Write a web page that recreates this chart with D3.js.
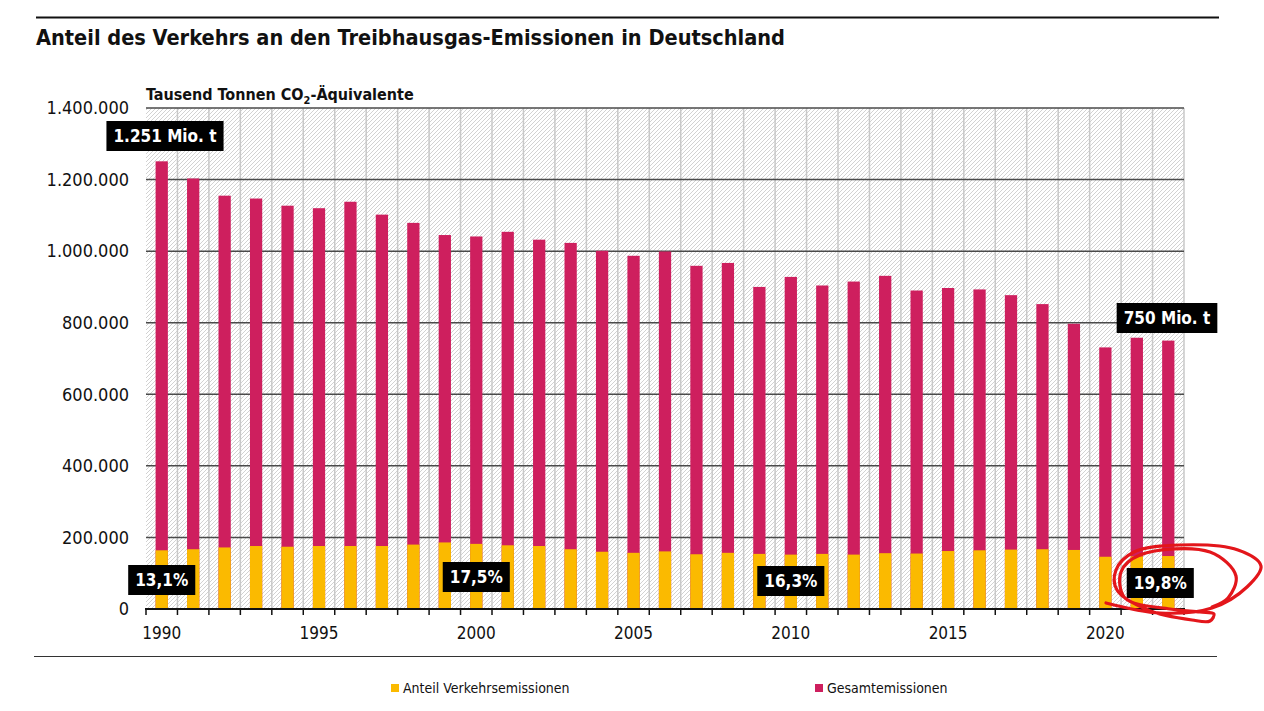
<!DOCTYPE html>
<html>
<head>
    <title>Anteil des Verkehrs</title>
    <script src="https://d3js.org/d3.v7.min.js"></script>
    <style>
        body { margin: 0; background: #fff; }
        text { font-family: "Liberation Sans Narrow", "DejaVu Sans Condensed", "Roboto Condensed", sans-serif; }
    </style>
</head>
<body>
    <div id="chart"></div>
    <script>
        // Tausend Tonnen CO2-Aequivalente
        const years = d3.range(1990, 2023);
        const gesamt = [1251000, 1203000, 1155000, 1147000, 1127000, 1120000, 1138000, 1102000, 1079000, 1045000,
                        1041000, 1054000, 1032000, 1023000, 1001000, 987000, 999000, 959000, 967000, 900000,
                        928000, 904000, 915000, 931000, 890000, 897000, 893000, 877000, 852000, 797000,
                        731000, 758000, 750000];
        const verkehr = [164000, 167000, 172000, 176000, 174000, 176000, 176000, 176000, 180000, 186000,
                         182000, 178000, 176000, 167000, 160000, 157000, 161000, 153000, 157000, 154000,
                         152000, 154000, 152000, 156000, 155000, 162000, 164000, 166000, 167000, 165000,
                         146000, 147000, 148000];
        const yTicks = [0, 200000, 400000, 600000, 800000, 1000000, 1200000, 1400000];
        const xLabelYears = [1990, 1995, 2000, 2005, 2010, 2015, 2020];
        const callouts = [
            {year: 1990, text: "13,1%", dx: 0, cy: 580},
            {year: 2000, text: "17,5%", dx: 0, cy: 577},
            {year: 2010, text: "16,3%", dx: 0, cy: 581},
            {year: 2022, text: "19,8%", dx: -8, cy: 583}
        ];
        const totalLabels = [
            {year: 1990, text: "1.251 Mio. t", cx: 165, cy: 136},
            {year: 2022, text: "750 Mio. t", cx: 1167, cy: 318}
        ];

        const W = 1264, H = 711;
        const pLeft = 146, pRight = 1184, pTop = 108, pBottom = 609;
        const fmt = d3.formatLocale({decimal: ",", thousands: ".", grouping: [3], currency: ["", "€"]}).format(",.0f");

        const svg = d3.select("#chart").append("svg")
            .attr("width", W).attr("height", H);

        const defs = svg.append("defs");
        defs.append("pattern")
            .attr("id", "hatch")
            .attr("patternUnits", "userSpaceOnUse")
            .attr("width", 4).attr("height", 4)
            .append("path")
            .attr("d", "M-1,1 l2,-2 M0,4 l4,-4 M3,5 l2,-2")
            .attr("stroke", "#d2d2d2")
            .attr("stroke-width", 1);

        const x = d3.scaleBand().domain(years).range([pLeft, pRight]).paddingInner(0.61).paddingOuter(0.305);
        const y = d3.scaleLinear().domain([0, 1400000]).range([pBottom, pTop]);

        // top rule + title
        svg.append("line").attr("x1", 36).attr("x2", 1219).attr("y1", 17.5).attr("y2", 17.5)
            .attr("stroke", "#111").attr("stroke-width", 2);
        svg.append("text").attr("x", 36).attr("y", 45)
            .style("font-size", "22px").style("font-weight", "bold").attr("fill", "#111")
            .attr("textLength", 749).attr("lengthAdjust", "spacingAndGlyphs")
            .text("Anteil des Verkehrs an den Treibhausgas-Emissionen in Deutschland");

        // unit label
        const unit = svg.append("text").attr("x", 146).attr("y", 100)
            .style("font-size", "16px").style("font-weight", "bold").attr("fill", "#111");
        unit.append("tspan").text("Tausend Tonnen CO");
        unit.append("tspan").attr("dy", 4).style("font-size", "11px").text("2");
        unit.append("tspan").attr("dy", -4).text("-Äquivalente");

        // hatched plot background
        svg.append("rect").attr("x", pLeft).attr("y", pTop)
            .attr("width", pRight - pLeft).attr("height", pBottom - pTop)
            .attr("fill", "url(#hatch)");

        // vertical grid at band boundaries
        const step = x.step();
        const bounds = years.map(d => x(d) + x.bandwidth() / 2 - step / 2).concat([pRight]);
        svg.append("g").selectAll("line").data(bounds.slice(1)).join("line")
            .attr("x1", d => d).attr("x2", d => d)
            .attr("y1", pTop).attr("y2", pBottom)
            .attr("stroke", "#c8c8c8").attr("stroke-width", 1.5);

        // horizontal grid
        svg.append("g").selectAll("line").data(yTicks.slice(1)).join("line")
            .attr("x1", pLeft).attr("x2", pRight)
            .attr("y1", d => y(d)).attr("y2", d => y(d))
            .attr("stroke", "#4a4a4a").attr("stroke-width", 1.5);

        // y labels
        svg.append("g").selectAll("text").data(yTicks).join("text")
            .attr("x", 129).attr("y", d => y(d)).attr("dy", "0.35em")
            .attr("text-anchor", "end").style("font-size", "18px").attr("fill", "#111")
            .text(d => fmt(d));

        // bars
        svg.append("g").selectAll("rect").data(years).join("rect")
            .attr("x", d => x(d)).attr("width", x.bandwidth())
            .attr("y", (d, i) => y(gesamt[i])).attr("height", (d, i) => pBottom - y(gesamt[i]))
            .attr("fill", "#CE1F5E");
        svg.append("g").selectAll("rect").data(years).join("rect")
            .attr("x", d => x(d)).attr("width", x.bandwidth())
            .attr("y", (d, i) => y(verkehr[i])).attr("height", (d, i) => pBottom - y(verkehr[i]))
            .attr("fill", "#FBBA00");

        // x axis
        svg.append("line").attr("x1", pLeft - 1).attr("x2", pRight + 1).attr("y1", pBottom).attr("y2", pBottom)
            .attr("stroke", "#111").attr("stroke-width", 2);
        svg.append("g").selectAll("line").data(bounds).join("line")
            .attr("x1", d => d).attr("x2", d => d)
            .attr("y1", pBottom).attr("y2", pBottom + 6)
            .attr("stroke", "#111").attr("stroke-width", 1.5);
        svg.append("g").selectAll("text").data(xLabelYears).join("text")
            .attr("x", d => x(d) + x.bandwidth() / 2).attr("y", 639)
            .attr("text-anchor", "middle").style("font-size", "17px").attr("fill", "#111")
            .text(d => d);

        // black label boxes
        function box(cx, cy, text, size) {
            const g = svg.append("g");
            const t = g.append("text").attr("x", cx).attr("y", cy).attr("dy", "0.35em")
                .attr("text-anchor", "middle").style("font-size", size + "px").style("font-weight", "bold")
                .attr("fill", "#fff").text(text);
            const bb = t.node().getBBox();
            g.insert("rect", "text")
                .attr("x", bb.x - 7).attr("y", cy - 15)
                .attr("width", bb.width + 14).attr("height", 30)
                .attr("fill", "#000");
        }
        totalLabels.forEach(d => box(d.cx, d.cy, d.text, 17));
        callouts.forEach(d => box(x(d.year) + x.bandwidth() / 2 + d.dx, d.cy, d.text, 17));

        // hand-drawn red mark
        const loop = [[1106, 603], [1160, 613], [1212, 608], [1247, 587], [1261, 566], [1238, 550],
                      [1180, 545], [1134, 552], [1116, 570], [1117, 590], [1148, 610], [1192, 620],
                      [1210, 621], [1214, 614], [1200, 612], [1170, 609], [1125, 598], [1121, 572],
                      [1140, 555], [1210, 552], [1236, 576], [1228, 598], [1212, 607]];
        svg.append("path")
            .attr("d", d3.line().curve(d3.curveCatmullRom)(loop))
            .attr("fill", "none").attr("stroke", "#e3161b").attr("stroke-width", 3.2)
            .attr("stroke-linecap", "round").attr("stroke-linejoin", "round");

        // bottom rule
        svg.append("line").attr("x1", 34).attr("x2", 1217).attr("y1", 656.5).attr("y2", 656.5)
            .attr("stroke", "#333").attr("stroke-width", 1.2);

        // legend
        const legend = [{name: "Anteil Verkehrsemissionen", color: "#FBBA00", x: 391},
                        {name: "Gesamtemissionen", color: "#CE1F5E", x: 815}];
        const lg = svg.append("g").selectAll("g").data(legend).join("g")
            .attr("transform", d => `translate(${d.x},688)`);
        lg.append("rect").attr("x", 0).attr("y", -4).attr("width", 8).attr("height", 8).attr("fill", d => d.color);
        lg.append("text").attr("x", 12).attr("dy", "0.35em").style("font-size", "14px").attr("fill", "#111")
            .text(d => d.name);
    </script>
</body>
</html>
